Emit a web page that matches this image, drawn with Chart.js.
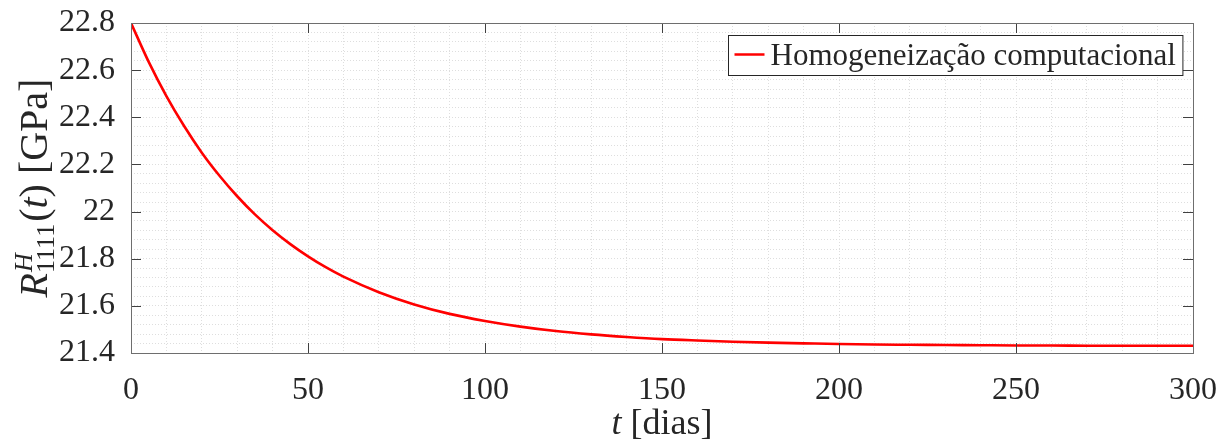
<!DOCTYPE html>
<html lang="pt">
<head>
    <meta charset="UTF-8">
    <title>R1111 homogeneizado</title>
    <script src="https://cdn.jsdelivr.net/npm/chart.js"></script>
    <style>
        body { margin: 0; background: #fff; }
    </style>
</head>
<body>
    <canvas id="chartCanvas" width="1222" height="444"></canvas>

    <script>
        // tempo [dias] e valores
        const tempo = [0, 5, 10, 15, 20, 25, 30, 35, 40, 45, 50, 55, 60, 70, 80, 90, 100, 110, 120, 130, 140,
                       150, 160, 170, 180, 190, 200, 210, 220, 230, 240, 250, 260, 270, 280, 290, 300];
        const r1111 = [22.800, 22.635, 22.490, 22.363, 22.250, 22.152, 22.065, 21.988, 21.921, 21.862, 21.810,
                       21.764, 21.724, 21.658, 21.606, 21.566, 21.536, 21.512, 21.493, 21.479, 21.468,
                       21.459, 21.453, 21.448, 21.444, 21.441, 21.438, 21.436, 21.435, 21.434, 21.433,
                       21.432, 21.432, 21.431, 21.431, 21.431, 21.431];
        const xMajor = [0, 50, 100, 150, 200, 250, 300];
        const yMajor = [21.4, 21.6, 21.8, 22, 22.2, 22.4, 22.6, 22.8];
        const serieNome = 'Homogeneização computacional';

        const FONT = '"Liberation Serif", "Times New Roman", serif';
        const TXT = '#262626';

        // caixa, marcas internas, rótulos dos eixos e legenda
        const boxPlugin = {
            id: 'matlabBox',
            afterDraw(chart) {
                const c = chart.ctx, a = chart.chartArea;
                const xs = chart.scales.x, ys = chart.scales.y;
                c.save();

                // ticks para dentro
                c.strokeStyle = '#404040';
                c.lineWidth = 1;
                c.beginPath();
                xMajor.forEach(v => {
                    const px = Math.round(xs.getPixelForValue(v)) + 0.5;
                    c.moveTo(px, a.bottom); c.lineTo(px, a.bottom - 10);
                    c.moveTo(px, a.top); c.lineTo(px, a.top + 10);
                });
                yMajor.forEach(v => {
                    const py = Math.round(ys.getPixelForValue(v)) + 0.5;
                    c.moveTo(a.left, py); c.lineTo(a.left + 10, py);
                    c.moveTo(a.right, py); c.lineTo(a.right - 10, py);
                });
                c.stroke();

                // caixa
                c.strokeStyle = '#6e6e6e';
                c.strokeRect(Math.round(a.left) + 0.5, Math.round(a.top) + 0.5,
                             Math.round(a.right - a.left), Math.round(a.bottom - a.top));

                // legenda
                const lbl = chart.data.datasets[0].label;
                c.font = '31px ' + FONT;
                const tw = c.measureText(lbl).width;
                const lw = 6 + 30 + 6 + tw + 7, lh = 40;
                const lx = Math.round(a.right - 11 - lw) + 0.5, ly = Math.round(a.top + 12) + 0.5;
                c.fillStyle = '#fff';
                c.fillRect(lx, ly, lw, lh);
                c.strokeStyle = '#262626';
                c.strokeRect(lx, ly, lw, lh);
                c.strokeStyle = '#ff0000';
                c.lineWidth = 2.5;
                c.beginPath();
                c.moveTo(lx + 6, ly + 19); c.lineTo(lx + 36, ly + 19);
                c.stroke();
                c.fillStyle = TXT;
                c.textBaseline = 'alphabetic';
                c.textAlign = 'left';
                c.fillText(lbl, lx + 42, ly + 29);

                // título eixo x: t [dias]
                const xParts = [['italic 36px ', 't'], ['36px ', ' [dias]']];
                let wX = 0;
                xParts.forEach(p => { c.font = p[0] + FONT; wX += c.measureText(p[1]).width; });
                let cx = (a.left + a.right) / 2 - wX / 2;
                xParts.forEach(p => {
                    c.font = p[0] + FONT;
                    c.fillText(p[1], cx, 434);
                    cx += c.measureText(p[1]).width;
                });

                // título eixo y: R^H_1111(t) [GPa]
                c.translate(47, (a.top + a.bottom) / 2);
                c.rotate(-Math.PI / 2);
                c.font = 'italic 40px ' + FONT;
                const wR = c.measureText('R').width;
                c.font = 'italic 26px ' + FONT;
                const wH = c.measureText('H').width;
                c.font = '26px ' + FONT;
                const wSub = c.measureText('1111').width;
                const rest = [['40px ', '('], ['italic 40px ', 't'], ['40px ', ') [GPa]']];
                let wRest = 0;
                rest.forEach(p => { c.font = p[0] + FONT; wRest += c.measureText(p[1]).width; });
                const total = wR + Math.max(wH, wSub) + 2 + wRest;
                let px = -total / 2;
                c.font = 'italic 40px ' + FONT;
                c.fillText('R', px, 0);
                px += wR;
                c.font = 'italic 26px ' + FONT;
                c.fillText('H', px + 1, -15);
                c.font = '26px ' + FONT;
                c.fillText('1111', px, 7);
                px += Math.max(wH, wSub) + 2;
                rest.forEach(p => {
                    c.font = p[0] + FONT;
                    c.fillText(p[1], px, 0);
                    px += c.measureText(p[1]).width;
                });
                c.restore();
            }
        };

        const ctx = document.getElementById('chartCanvas').getContext('2d');

        const chart = new Chart(ctx, {
            type: 'line',
            data: {
                datasets: [{
                    label: serieNome,
                    data: tempo.map((t, i) => ({ x: t, y: r1111[i] })),
                    borderColor: '#ff0000',
                    borderWidth: 2.6,
                    pointRadius: 0,
                    cubicInterpolationMode: 'monotone',
                    fill: false
                }]
            },
            options: {
                responsive: false,
                animation: false,
                layout: { padding: { top: 23, right: 29, left: 0, bottom: 0 } },
                plugins: {
                    legend: { display: false },
                    tooltip: { enabled: false }
                },
                scales: {
                    x: {
                        type: 'linear',
                        min: 0,
                        max: 300,
                        afterFit: s => {
                            s.height = 91;
                            s.paddingLeft = 0;
                            s.paddingRight = 0;
                        },
                        ticks: {
                            stepSize: 10,
                            autoSkip: false,
                            maxRotation: 0,
                            padding: 18,
                            color: TXT,
                            font: { family: FONT, size: 32 },
                            callback: v => (v % 50 === 0 ? String(v) : '')
                        },
                        grid: { color: '#dedede', lineWidth: 1, drawTicks: false },
                        border: { display: false, dash: [1, 2] }
                    },
                    y: {
                        min: 21.4,
                        max: 22.8,
                        afterFit: s => {
                            s.width = 131;
                            s.paddingTop = 0;
                            s.paddingBottom = 0;
                        },
                        ticks: {
                            stepSize: 0.04,
                            autoSkip: false,
                            padding: 16,
                            color: TXT,
                            font: { family: FONT, size: 32 },
                            callback: v => {
                                const k = v * 5;
                                return Math.abs(k - Math.round(k)) < 1e-6 ? String(Math.round(v * 10) / 10) : '';
                            }
                        },
                        grid: { color: '#dedede', lineWidth: 1, drawTicks: false },
                        border: { display: false, dash: [1, 2] }
                    }
                }
            },
            plugins: [boxPlugin]
        });
    </script>
</body>
</html>
